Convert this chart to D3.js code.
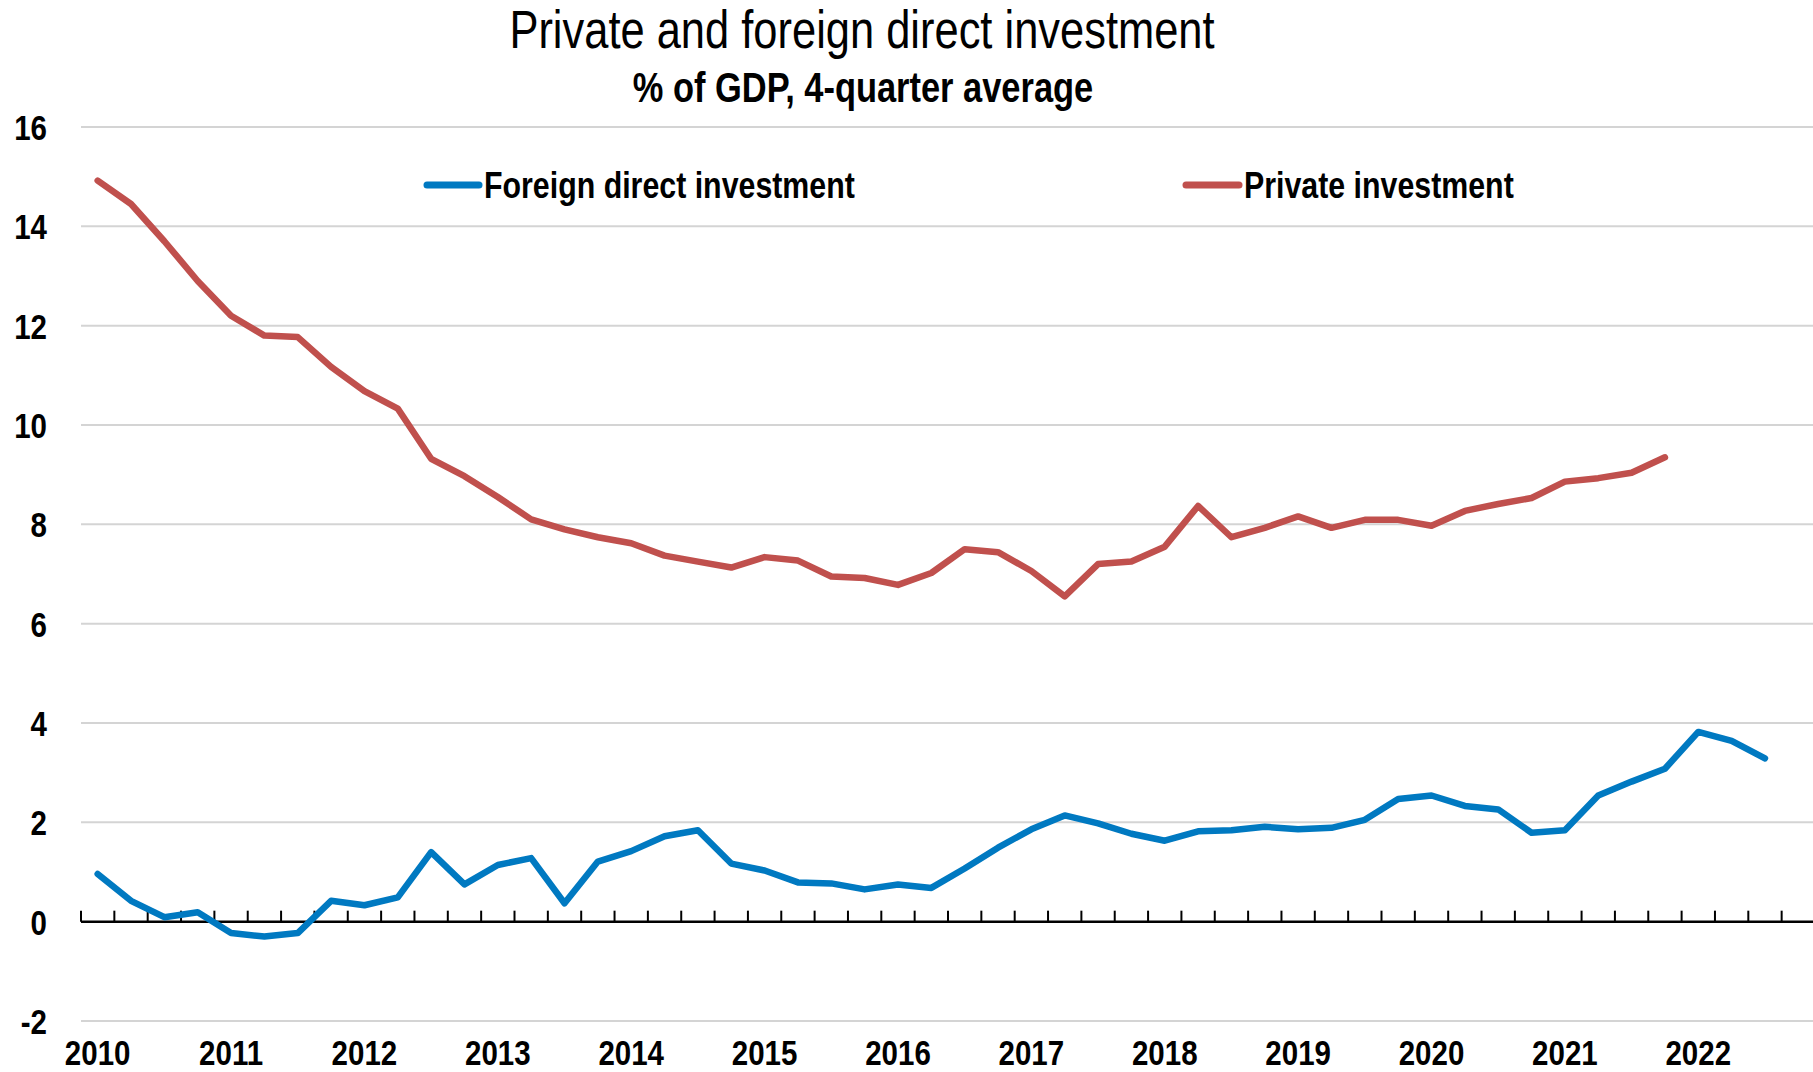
<!DOCTYPE html>
<html><head><meta charset="utf-8">
<script src="https://cdn.jsdelivr.net/npm/d3@7"></script>
<style>
body{margin:0;background:#fff}
svg{display:block}
text{font-family:"Liberation Sans","Arial",sans-serif;fill:#000}
</style>
</head><body><svg id="c" width="1813" height="1072"></svg>
<script>
const years = [2010,2011,2012,2013,2014,2015,2016,2017,2018,2019,2020,2021,2022];
const quarterNames = ["Q1","Q2","Q3","Q4"];
const quarters = years.flatMap(y => quarterNames.map(q => y + q));

const fdi = [0.96,0.42,0.09,0.19,-0.23,-0.30,-0.23,0.42,0.33,0.49,
             1.40,0.75,1.14,1.28,0.37,1.21,1.42,1.72,1.84,1.17,
             1.03,0.79,0.77,0.65,0.75,0.68,1.07,1.49,1.86,2.14,
             1.98,1.77,1.63,1.82,1.84,1.91,1.86,1.89,2.05,2.47,
             2.54,2.33,2.26,1.79,1.84,2.54,2.82,3.08,3.82,3.64,3.29];
const privateInv = [14.92,14.45,13.70,12.90,12.20,11.80,11.77,11.17,10.68,10.33,
                    9.32,8.97,8.55,8.10,7.90,7.74,7.62,7.37,7.25,7.13,
                    7.34,7.27,6.95,6.92,6.78,7.02,7.50,7.44,7.06,6.55,
                    7.20,7.25,7.55,8.37,7.74,7.93,8.16,7.93,8.09,8.09,
                    7.97,8.27,8.41,8.53,8.86,8.93,9.04,9.35];
const yTicks = [-2,0,2,4,6,8,10,12,14,16];
const seriesNames = ["Foreign direct investment","Private investment"];
const seriesColors = ["#0079c1","#c0504d"];
const titleText = "Private and foreign direct investment";
const subtitleText = "% of GDP, 4-quarter average";

const W = 1813, H = 1072;
const NARROW = 0.82;
const plot = {left: 81, right: 1815, top: 127, bottom: 1021};
const svg = d3.select("#c");

const x = d3.scaleBand().domain(quarters).range([plot.left, plot.right]);
const bw = x.bandwidth();
const y = d3.scaleLinear().domain([-2, 16]).range([plot.bottom, plot.top]);

function narrow(sel, fx, fy) {
  return sel.attr("transform", (d, i) => `translate(${fx(d, i)},${fy(d, i)}) scale(${NARROW},1)`);
}

// gridlines
svg.append("g").selectAll("line").data(yTicks.filter(d => d !== 0)).join("line")
  .attr("x1", plot.left).attr("x2", W)
  .attr("y1", d => y(d)).attr("y2", d => y(d))
  .attr("stroke", "#d4d4d4").attr("stroke-width", 2);

// y labels
narrow(svg.append("g").selectAll("text").data(yTicks).join("text"), () => 47, d => y(d))
  .attr("dy", "0.36em")
  .attr("text-anchor", "end").attr("font-weight", "bold").attr("font-size", 36)
  .text(d => d);

// x axis at zero
const x0 = y(0);
svg.append("line").attr("x1", plot.left).attr("x2", W).attr("y1", x0).attr("y2", x0)
  .attr("stroke", "#000").attr("stroke-width", 2.5);
svg.append("g").selectAll("line").data(quarters).join("line")
  .attr("x1", d => x(d)).attr("x2", d => x(d))
  .attr("y1", x0).attr("y2", x0 - 11)
  .attr("stroke", "#000").attr("stroke-width", 2);

// x labels
narrow(svg.append("g").selectAll("text").data(quarters.filter(q => q.endsWith("Q1"))).join("text"),
       d => x(d) + bw / 2, () => 1065)
  .attr("text-anchor", "middle").attr("font-weight", "bold").attr("font-size", 36)
  .text(d => d.slice(0, 4));

// lines
const line = d3.line().x((d, i) => x(quarters[i]) + bw / 2).y(d => y(d));
[privateInv, fdi].forEach((s, k) => {
  svg.append("path").datum(s).attr("d", line)
    .attr("fill", "none").attr("stroke", seriesColors[1 - k]).attr("stroke-width", 6.5)
    .attr("stroke-linejoin", "round").attr("stroke-linecap", "round");
});

// title
narrow(svg.append("text"), () => 862, () => 48).attr("text-anchor", "middle")
  .attr("font-size", 53).text(titleText);
narrow(svg.append("text"), () => 863, () => 102).attr("text-anchor", "middle")
  .attr("font-weight", "bold").attr("font-size", 42).text(subtitleText);

// legend
const legendItems = [
  {x1: 427, x2: 479, tx: 484},
  {x1: 1186, x2: 1239, tx: 1244}
];
legendItems.forEach((l, i) => {
  svg.append("line").attr("x1", l.x1).attr("x2", l.x2).attr("y1", 185).attr("y2", 185)
    .attr("stroke", seriesColors[i]).attr("stroke-width", 7).attr("stroke-linecap", "round");
  narrow(svg.append("text"), () => l.tx, () => 198).attr("font-weight", "bold")
    .attr("font-size", 37).text(seriesNames[i]);
});
</script></body></html>
